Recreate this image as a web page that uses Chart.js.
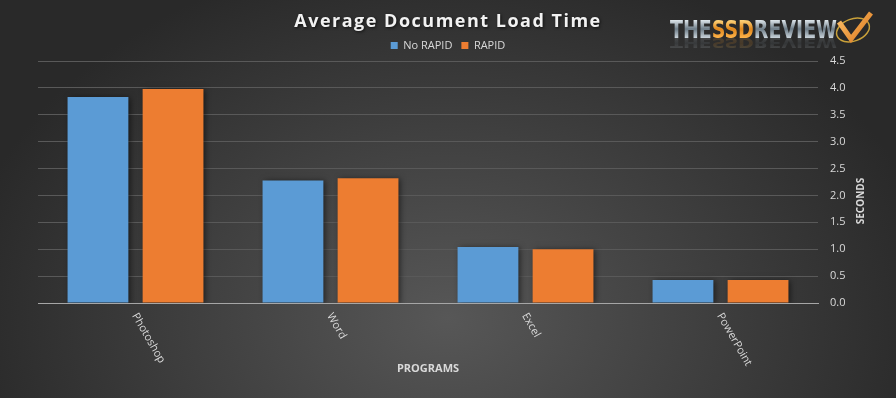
<!DOCTYPE html>
<html>
<head>
<meta charset="utf-8">
<script src="https://cdn.jsdelivr.net/npm/chart.js@4"></script>
<style>
  html, body { margin: 0; padding: 0; background: #333; }
  #wrap { width: 896px; height: 398px; position: relative; }
</style>
</head>
<body>
<div id="wrap"><canvas id="chart"></canvas></div>
<script>
// values (seconds)
const programs = ['Photoshop', 'Word', 'Excel', 'PowerPoint'];
const noRapid = [3.83, 2.28, 1.04, 0.43];
const rapid = [3.98, 2.32, 1.0, 0.43];
const seriesNames = ['No RAPID', 'RAPID'];
const yMax = 4.5;
const yStep = 0.5;

const textColor = '#d9d9d9';
const family = '"Open Sans", "Noto Sans", sans-serif';

// grey radial background, lighter toward the bottom middle
const backgroundPlugin = {
  id: 'bg',
  beforeDraw(chart) {
    const { ctx, width, height } = chart;
    ctx.save();
    ctx.translate(width / 2, height * 0.8);
    ctx.scale(1, 0.75);
    const g = ctx.createRadialGradient(0, 0, 0, 0, 0, width * 0.55);
    g.addColorStop(0, '#575757');
    g.addColorStop(1, '#292929');
    ctx.fillStyle = g;
    ctx.fillRect(-width, -height * 2, width * 2, height * 4);
    ctx.restore();
  }
};

// soft drop shadow under the bars
const shadowPlugin = {
  id: 'barShadow',
  beforeDatasetsDraw(chart) {
    const ctx = chart.ctx;
    ctx.save();
    ctx.shadowColor = 'rgba(0,0,0,0.55)';
    ctx.shadowBlur = 6;
    ctx.shadowOffsetX = 2;
    ctx.shadowOffsetY = 1;
  },
  afterDatasetsDraw(chart) {
    chart.ctx.restore();
  }
};

function drawLogo(ctx) {
  const silver = (c) => {
    const g = c.createLinearGradient(0, -18, 0, 0);
    g.addColorStop(0, '#dfe7ec');
    g.addColorStop(0.5, '#6d7c87');
    g.addColorStop(1, '#c9d3da');
    return g;
  };
  const gold = (c) => {
    const g = c.createLinearGradient(0, -18, 0, 0);
    g.addColorStop(0, '#ffd67e');
    g.addColorStop(0.5, '#e0871c');
    g.addColorStop(1, '#ffb44a');
    return g;
  };
  const parts = [['THE', silver], ['SSD', gold], ['REVIEW', silver]];
  ctx.save();
  ctx.font = 'bold 24px "DejaVu Sans Condensed", "Liberation Sans Narrow", sans-serif';
  const total = parts.reduce((s, p) => s + ctx.measureText(p[0]).width, 0);
  ctx.translate(670, 38);
  ctx.scale(167 / total, 1);
  ctx.textBaseline = 'alphabetic';
  ctx.textAlign = 'left';
  // faint reflection under the letters
  ctx.save();
  ctx.scale(1, -0.6);
  ctx.globalAlpha = 0.15;
  let x = 0;
  parts.forEach(p => {
    ctx.fillStyle = p[1](ctx);
    ctx.fillText(p[0], x, 0);
    x += ctx.measureText(p[0]).width;
  });
  ctx.restore();
  x = 0;
  parts.forEach(p => {
    ctx.fillStyle = p[1](ctx);
    ctx.fillText(p[0], x, 0);
    x += ctx.measureText(p[0]).width;
  });
  ctx.restore();

  // check mark with gold ring
  ctx.save();
  ctx.strokeStyle = '#c9a13a';
  ctx.lineWidth = 1.5;
  ctx.beginPath();
  ctx.ellipse(853, 30, 17, 11, -0.35, 0, Math.PI * 2);
  ctx.stroke();
  const cg = ctx.createLinearGradient(838, 12, 872, 42);
  cg.addColorStop(0, '#ffc46b');
  cg.addColorStop(1, '#d9731a');
  ctx.strokeStyle = cg;
  ctx.lineWidth = 5;
  ctx.beginPath();
  ctx.moveTo(839, 22);
  ctx.lineTo(851, 39);
  ctx.lineTo(871, 13);
  ctx.stroke();
  ctx.restore();
}

// title, rotated category labels, right axis title, logo
const textPlugin = {
  id: 'texts',
  afterDraw(chart) {
    const { ctx } = chart;
    const xs = chart.scales.x;
    const ys = chart.scales.y;

    ctx.save();
    ctx.font = 'bold 18px ' + family;
    ctx.letterSpacing = '1.5px';
    ctx.textAlign = 'center';
    ctx.textBaseline = 'middle';
    ctx.shadowColor = 'rgba(0,0,0,0.7)';
    ctx.shadowBlur = 3;
    ctx.shadowOffsetX = 1;
    ctx.shadowOffsetY = 1;
    ctx.fillStyle = '#f2f2f2';
    ctx.fillText('Average Document Load Time', 448, 22);
    ctx.restore();

    ctx.save();
    ctx.font = '11px ' + family;
    ctx.fillStyle = textColor;
    ctx.textAlign = 'left';
    ctx.textBaseline = 'middle';
    programs.forEach((name, i) => {
      const px = xs.getPixelForTick(i);
      ctx.save();
      ctx.translate(px - 1, xs.top + 11);
      ctx.rotate(Math.PI / 3);
      ctx.fillText(name, 0, 0);
      ctx.restore();
    });
    ctx.restore();

    ctx.save();
    ctx.font = 'bold 10px ' + family;
    ctx.fillStyle = textColor;
    ctx.textAlign = 'center';
    ctx.textBaseline = 'middle';
    ctx.translate(ys.right - 35, 201);
    ctx.rotate(-Math.PI / 2);
    ctx.fillText('SECONDS', 0, 0);
    ctx.restore();

    drawLogo(ctx);
  }
};

new Chart(document.getElementById('chart'), {
  type: 'bar',
  data: {
    labels: programs,
    datasets: [
      { label: seriesNames[0], data: noRapid, backgroundColor: '#5b9bd5', yAxisID: 'y' },
      { label: seriesNames[1], data: rapid, backgroundColor: '#ed7d31', yAxisID: 'y' }
    ]
  },
  options: {
    responsive: true,
    maintainAspectRatio: false,
    animation: false,
    categoryPercentage: 0.77,
    barPercentage: 0.81,
    layout: { padding: { top: 31, left: 0, right: 0, bottom: 0 } },
    plugins: {
      title: { display: false },
      tooltip: { enabled: false },
      legend: {
        position: 'top',
        labels: {
          color: textColor,
          boxWidth: 7,
          boxHeight: 7,
          padding: 9,
          font: { family: family, size: 11 }
        }
      }
    },
    scales: {
      x: {
        grid: { display: false },
        border: { display: true, color: '#a6a6a6', width: 1 },
        ticks: { display: false },
        title: {
          display: true,
          text: 'PROGRAMS',
          color: textColor,
          font: { family: family, size: 11, weight: 'bold' },
          padding: { top: 0, bottom: 23 }
        },
        afterFit(scale) { scale.height = 95; }
      },
      // empty spacer on the left so the plot starts where the reference does
      yLeft: {
        position: 'left',
        grid: { display: false },
        border: { display: false },
        ticks: { display: false },
        afterFit(scale) { scale.width = 38; }
      },
      y: {
        position: 'right',
        min: 0,
        max: yMax,
        ticks: {
          stepSize: yStep,
          color: textColor,
          padding: 12,
          font: { family: family, size: 11 },
          callback: v => v.toFixed(1)
        },
        grid: {
          color: c => (c.tick && c.tick.value === 0 ? '#a6a6a6' : '#595959'),
          drawTicks: false
        },
        border: { display: false },
        afterFit(scale) { scale.width = 78; }
      }
    }
  },
  plugins: [backgroundPlugin, shadowPlugin, textPlugin]
});
</script>
</body>
</html>
